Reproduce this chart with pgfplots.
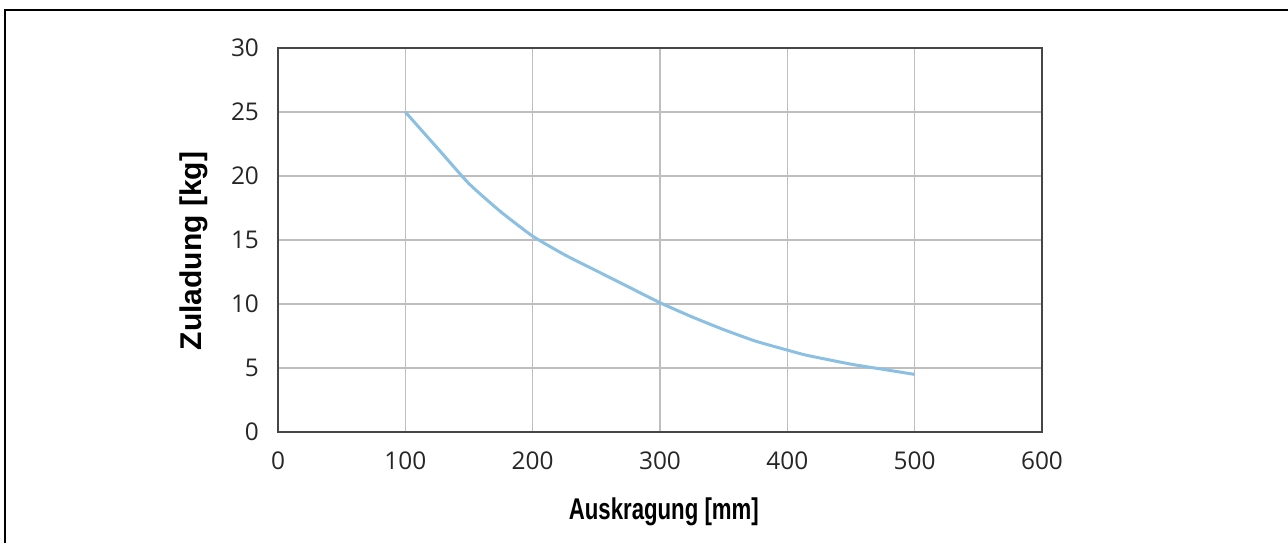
\documentclass[border=0pt]{standalone}
\usepackage{pgfplots}
\pgfplotsset{compat=1.18}
\usepackage{fontspec}
\setmainfont{Open Sans}
\newfontfamily\labfont{Liberation Sans}
\definecolor{curve}{RGB}{140,192,226}
\definecolor{gridc}{RGB}{190,190,190}
\definecolor{axc}{RGB}{70,70,70}
\begin{document}
\begin{tikzpicture}[x=1pt,y=1pt]
\path[use as bounding box] (0,0) rectangle (644,271.5);
\draw[line width=1pt,black] (2.5,0) -- (2.5,266.5) -- (644,266.5);
\begin{axis}[
  at={(139pt,55.5pt)}, anchor=south west,
  scale only axis, width=382pt, height=192pt,
  xmin=0, xmax=600, ymin=0, ymax=30,
  xtick={0,100,...,600}, ytick={0,5,...,30},
  grid=major,
  major grid style={gridc, line width=0.6pt},
  axis line style={axc, line width=0.8pt},
  tick style={draw=none},
  /pgf/number format/assume math mode=true,
  ticklabel style={font=\fontsize{12.2}{14}\selectfont, text=black!85},
  xticklabel style={yshift=-6.5pt},
  yticklabel style={xshift=-6pt},
  xlabel={\scalebox{0.74}[1]{\labfont\bfseries Auskragung [mm]}},
  ylabel={\labfont\bfseries Zuladung [kg]},
  label style={font=\fontsize{15}{18}\selectfont},
  xlabel style={at={(axis description cs:0.505,-0.229)}, anchor=base},
  ylabel style={at={(axis description cs:-0.0995,0.471)}, anchor=base},
]
\addplot[curve, line width=1.5pt, smooth, tension=0.3] coordinates {
(100,25.0) (125,22.2) (150,19.4) (175,17.2) (200,15.3) (225,13.85)
(250,12.6) (275,11.35) (300,10.1) (325,9.0) (350,8.0) (375,7.1)
(400,6.4) (415,6.0) (450,5.3) (475,4.9) (500,4.5)
};
\end{axis}
\end{tikzpicture}
\end{document}
